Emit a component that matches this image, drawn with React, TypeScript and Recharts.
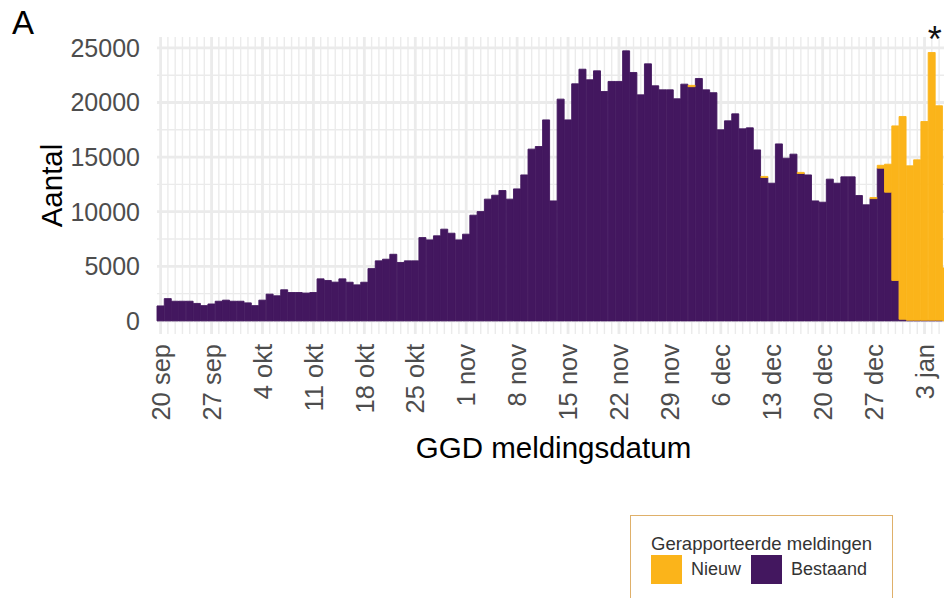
import React from 'react';
import { BarChart, Bar, XAxis, YAxis, CartesianGrid, Legend, ReferenceDot } from 'recharts';

const PAARS = '#43175f';
const GEEL = '#fbb41a';
const GRIJS = '#ebebeb';
const FONT = '"Liberation Sans", Arial, Helvetica, sans-serif';

// meldingsdagen 20 sep t/m 6 jan
const maanden: [string, number, number][] = [
  ['sep', 20, 30],
  ['okt', 1, 31],
  ['nov', 1, 30],
  ['dec', 1, 31],
  ['jan', 1, 6],
];
const datums: string[] = maanden.flatMap(([m, van, tot]) =>
  Array.from({ length: tot - van + 1 }, (_, i) => `${van + i} ${m}`)
);

const weekTicks = [
  '20 sep', '27 sep', '4 okt', '11 okt', '18 okt', '25 okt', '1 nov', '8 nov',
  '15 nov', '22 nov', '29 nov', '6 dec', '13 dec', '20 dec', '27 dec', '3 jan',
];

const yTicks = [0, 5000, 10000, 15000, 20000, 25000];
const yTicksFijn = [0, 2500, 5000, 7500, 10000, 12500, 15000, 17500, 20000, 22500, 25000];

const bestaand = [
  // sep
  1370, 2040, 1800, 1800, 1800, 1600, 1400, 1550, 1800, 1900, 1800,
  // okt
  1800, 1650, 1400, 1900, 2450, 2300, 2850, 2600, 2600, 2550, 2600,
  3850, 3700, 3550, 3850, 3540, 3300, 3540, 4790, 5500, 5650, 6100,
  5350, 5500, 5500, 7630, 7420, 7790, 8400, 8030, 7420,
  // nov
  7940, 9680, 10010, 11150, 11510, 11940, 11150, 12090, 13370, 15730,
  15970, 18410, 10990, 20310, 18410, 21710, 23050, 22080, 22900, 21010,
  21930, 21930, 24730, 22750, 20700, 23540, 21530, 21160, 21160, 20340,
  // dec
  21680, 21450, 22200, 21160, 20900, 17500, 18320, 18960, 17590, 17680,
  15660, 13130, 12610, 16210, 14900, 15270, 13500, 13370, 10990, 10870,
  12980, 12610, 13190, 13190, 11480, 10630, 11200, 13990, 11790, 3700, 150,
  // jan
  60, 60, 60, 60, 60, 0,
];

const nieuw = [
  // sep
  0, 0, 0, 0, 0, 0, 0, 0, 0, 0, 0,
  // okt
  0, 0, 0, 0, 0, 0, 0, 0, 0, 0, 0, 0, 0, 0, 0, 0,
  0, 0, 0, 0, 0, 0, 0, 0, 0, 0, 0, 0, 0, 0, 0,
  // nov
  0, 0, 0, 0, 0, 0, 0, 0, 0, 0, 0, 0, 0, 0, 0,
  0, 0, 0, 0, 0, 0, 0, 0, 0, 0, 0, 0, 0, 0, 0,
  // dec
  0, 120, 0, 0, 0, 0, 0, 0, 0, 0, 0, 100, 0, 0, 0, 0,
  100, 0, 0, 0, 0, 0, 0, 0, 0, 0, 100, 260, 2560, 14160, 18570,
  // jan
  14140, 14690, 18200, 24520, 19640, 4850,
];

const data = datums.map((datum, i) => ({ datum, bestaand: bestaand[i], nieuw: nieuw[i] }));

const XTick = ({ x, y, payload }: any) => (
  <g transform={`translate(${x},${y + 10})`}>
    <text transform="rotate(-90)" textAnchor="end" dy="0.36em" fill="#4d4d4d" fontSize={25.5} fontFamily={FONT}>
      {payload.value}
    </text>
  </g>
);

const LegendaInhoud = ({ payload }: any) => {
  const items = ['Nieuw', 'Bestaand']
    .map((n) => (payload || []).find((p: any) => p.value === n))
    .filter(Boolean);
  return (
    <div
      style={{
        position: 'relative',
        width: 263,
        height: 90,
        border: '1.5px solid #dfb06a',
        boxSizing: 'border-box',
        background: '#fff',
        fontFamily: FONT,
        color: '#333',
      }}
    >
      <div style={{ position: 'absolute', left: 20, top: 18, fontSize: 18.5, lineHeight: '20px', whiteSpace: 'nowrap' }}>
        Gerapporteerde meldingen
      </div>
      {items.map((item: any, i: number) => (
        <div
          key={item.value}
          style={{ position: 'absolute', left: 20 + i * 100, top: 39, display: 'flex', alignItems: 'center' }}
        >
          <span style={{ width: 31, height: 29, background: item.color, display: 'inline-block' }} />
          <span style={{ marginLeft: 9, fontSize: 18 }}>{item.value}</span>
        </div>
      ))}
    </div>
  );
};

export default function App() {
  return (
    <div style={{ position: 'fixed', left: 0, top: 0, width: 944, height: 598, overflow: 'hidden', background: '#fff' }}>
      <div style={{ position: 'absolute', left: 12, top: 4, fontSize: 33, fontFamily: FONT, color: '#000' }}>A</div>
      <BarChart
        width={960}
        height={598}
        data={data}
        margin={{ top: 37, right: 10, bottom: 0, left: 0 }}
        barCategoryGap={0}
        barGap={0}
        style={{ position: 'absolute', left: 0, top: 0 }}
      >
        <XAxis xAxisId="dagen" dataKey="datum" hide interval={0} />
        <YAxis yAxisId="fijn" hide domain={[-1200, 26000]} ticks={yTicksFijn} allowDataOverflow />
        <CartesianGrid xAxisId="dagen" yAxisId="fijn" stroke={GRIJS} strokeWidth={1.4} syncWithTicks />
        <CartesianGrid stroke={GRIJS} strokeWidth={2.8} syncWithTicks />
        <XAxis
          dataKey="datum"
          ticks={weekTicks}
          interval={0}
          height={264}
          tickLine={false}
          axisLine={false}
          tickSize={0}
          tickMargin={0}
          tick={<XTick />}
          label={({ viewBox }: any) => (
            <text
              x={viewBox.x + viewBox.width / 2}
              y={viewBox.y + 124}
              textAnchor="middle"
              fontSize={29.5}
              fontFamily={FONT}
              fill="#000"
            >
              GGD meldingsdatum
            </text>
          )}
        />
        <YAxis
          width={157}
          domain={[-1200, 26000]}
          ticks={yTicks}
          allowDataOverflow
          tickLine={false}
          axisLine={false}
          tickSize={0}
          tickMargin={17}
          tick={{ fill: '#4d4d4d', fontSize: 25, fontFamily: FONT }}
          label={({ viewBox }: any) => (
            <text
              transform={`translate(62,${viewBox.y + viewBox.height / 2}) rotate(-90)`}
              textAnchor="middle"
              fontSize={29.5}
              fontFamily={FONT}
              fill="#000"
            >
              Aantal
            </text>
          )}
        />
        <Bar
          dataKey="bestaand"
          name="Bestaand"
          stackId="a"
          fill={PAARS}
          stroke={PAARS}
          strokeWidth={0.9}
          isAnimationActive={false}
        />
        <Bar
          dataKey="nieuw"
          name="Nieuw"
          stackId="a"
          fill={GEEL}
          stroke={GEEL}
          strokeWidth={0.9}
          isAnimationActive={false}
        />
        <ReferenceDot
          x="4 jan"
          y={26000}
          r={1}
          fill="none"
          stroke="none"
          label={({ viewBox }: any) => (
            <text
              x={viewBox.x + viewBox.width / 2 + 3}
              y={viewBox.y + 16}
              textAnchor="middle"
              fontSize={36}
              fontFamily={FONT}
              fill="#111"
            >
              *
            </text>
          )}
        />
        <Legend
          verticalAlign="middle"
          align="center"
          layout="horizontal"
          content={<LegendaInhoud />}
          wrapperStyle={{ position: 'absolute', left: 630, top: 515, width: 263, height: 90 }}
        />
      </BarChart>
    </div>
  );
}
